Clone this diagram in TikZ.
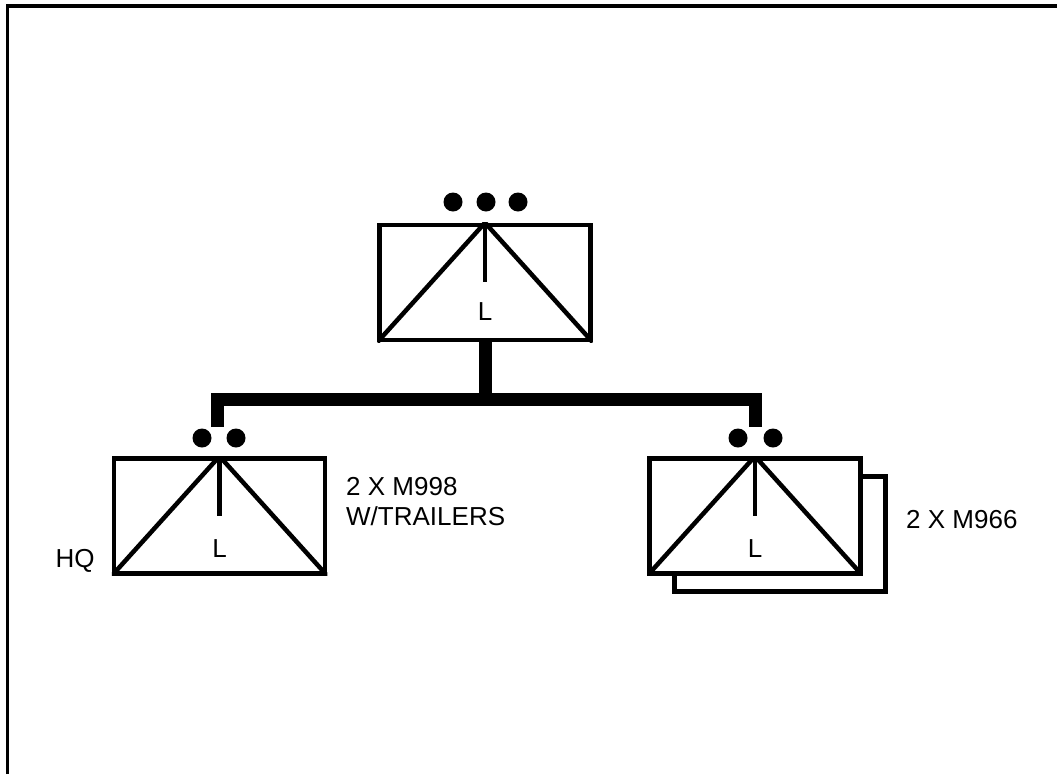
\documentclass[tikz,border=0pt]{standalone}
\usepackage{fontspec}
\setmainfont{Liberation Sans}
\begin{document}
\begin{tikzpicture}[x=1pt,y=-1pt,
  unitbox/.style={draw,line width=4.5pt,fill=white,inner sep=0pt,minimum width=211pt,minimum height=115pt},
  sym/.style={line width=4.5pt},
  conn/.style={line width=13pt,line join=miter},
  dot/.style={circle,fill=black,inner sep=0pt,minimum size=19pt},
  lbl/.style={font=\fontsize{26}{30}\selectfont,inner sep=0pt},
  frame/.style={line width=3.5pt}]
\useasboundingbox (0,0) rectangle (1057,774);
% frame
\draw[frame] (7.5,774) -- (7.5,6) -- (1057,6);
% top unit
\node[unitbox] (top) at (485,282.5) {};
\begin{scope}
\clip (top.south west) rectangle (top.north east);
\draw[sym] (top.south west) -- (top.north) -- (top.south east);
\end{scope}
\draw[sym] (top.north) -- ++(0,59);
\node[lbl] (topL) at (485,312) {L};
\node[dot] (t1) at (453,202) {};
\node[dot] (t2) at (486,202) {};
\node[dot] (t3) at (518,202) {};
% left unit
\node[unitbox] (hq) at (219.5,516) {};
\begin{scope}
\clip (hq.south west) rectangle (hq.north east);
\draw[sym] (hq.south west) -- (hq.north) -- (hq.south east);
\end{scope}
\draw[sym] (hq.north) -- ++(0,60);
\node[lbl] (hqL) at (219.5,549) {L};
\node[dot] (l1) at (202,438) {};
\node[dot] (l2) at (236,438) {};
% right unit with shadow
\node[unitbox] (sh) at (780,534) {};
\node[unitbox] (rt) at (755,516) {};
\begin{scope}
\clip (rt.south west) rectangle (rt.north east);
\draw[sym] (rt.south west) -- (rt.north) -- (rt.south east);
\end{scope}
\draw[sym] (rt.north) -- ++(0,60);
\node[lbl] (rtL) at (755,549) {L};
\node[dot] (r1) at (738,438) {};
\node[dot] (r2) at (773,438) {};
% connectors
\coordinate (bar) at (0,399.5);
\coordinate (ldrop) at (217.5,427);
\coordinate (rdrop) at (755,427);
\draw[conn] (top.south) -- (top.south |- bar);
\draw[conn] (ldrop) -- (ldrop |- bar) -- (rdrop |- bar) -- (rdrop);
% labels
\node[lbl,anchor=center] (hqlab) at (75,561) {HQ};
\node[lbl,anchor=base west,align=left] (m998) at (346,525) {2 X M998\\W/TRAILERS};
\node[lbl,anchor=base west] (m966) at (906,528) {2 X M966};
\end{tikzpicture}
\end{document}
